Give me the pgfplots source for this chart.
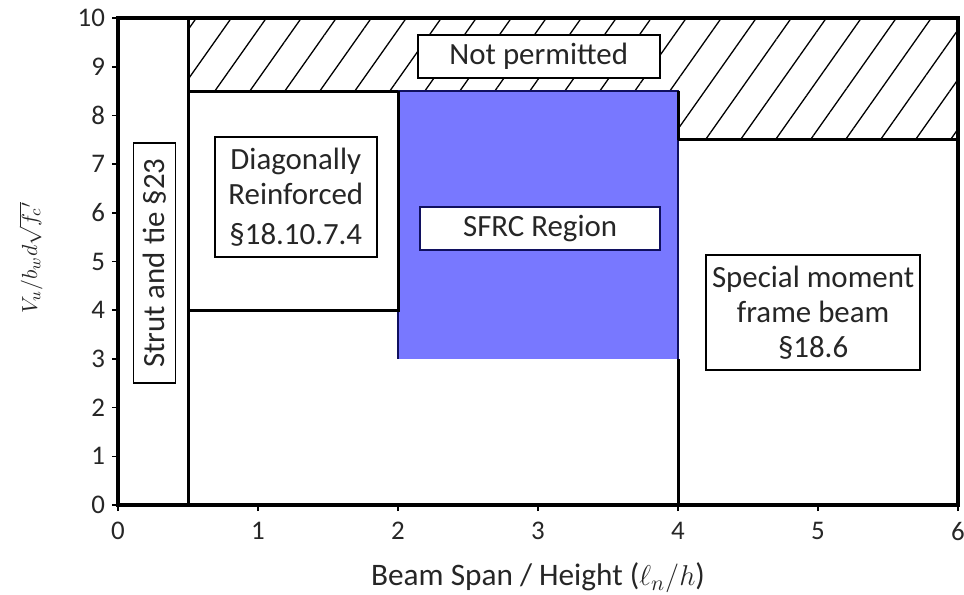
\documentclass[border=0pt]{standalone}
\usepackage{pgfplots}
\pgfplotsset{compat=1.18}
\usepackage{fontspec}
\setmainfont{Carlito}
\usetikzlibrary{patterns.meta}
\definecolor{sfrc}{HTML}{7878FF}
\definecolor{navy}{HTML}{101060}
\begin{document}
\begin{tikzpicture}
\begin{axis}[
  scale only axis,
  width=420bp, height=243.5bp,
  xmin=0, xmax=6, ymin=0, ymax=10,
  xtick={0,1,...,6}, ytick={0,1,...,10},
  tick pos=left, tick align=outside,
  major tick length=3bp,
  axis line style={line width=1.6bp},
  every tick/.style={black, line width=0.8bp},
  /pgf/number format/assume math mode=true,
  tick label style={font=\fontsize{13.5}{16}\selectfont, text=black!85},
  xticklabel style={yshift=-2bp},
  xlabel={Beam Span / Height ($\ell_n/h$)},
  xlabel style={font=\fontsize{15.7}{18}\selectfont, at={(rel axis cs:0.5,-0.15)}, anchor=center, text=black!85, inner sep=0pt},
  ylabel={$V_u/b_w d\sqrt{f_c{}'}$},
  ylabel style={font=\fontsize{11}{12}\selectfont, at={(rel axis cs:-0.104,0.507)}, anchor=center, text=black!85, inner sep=0pt},
  clip=false,
]
% hatched "not permitted" region
\addplot[draw=black, line width=1.3bp, pattern={Lines[angle=54.8, distance=14.3bp, line width=0.65bp]}]
  coordinates {(0.5,8.5) (4,8.5) (4,7.5) (6,7.5) (6,10) (0.5,10)} -- cycle;
% SFRC region
\addplot[draw=none, fill=sfrc] coordinates {(2,3) (4,3) (4,8.5) (2,8.5)} -- cycle;
\addplot[navy, line width=1bp] coordinates {(2,3) (2,8.5) (4,8.5) (4,3)};
% boundary lines
\addplot[black, line width=1.5bp] coordinates {(0.5,0) (0.5,10)};
\addplot[black, line width=1.5bp] coordinates {(0.5,4) (2,4) (2,8.5)};
\addplot[black, line width=1.5bp] coordinates {(0.5,8.5) (2,8.5)};
\addplot[black, line width=1.5bp] coordinates {(4,0) (4,3)};
\addplot[black, line width=1.5bp] coordinates {(4,7.5) (4,8.5)};
\addplot[black, line width=1.5bp] coordinates {(4,7.5) (6,7.5)};
% labels
\tikzset{lbl/.style={draw=black, line width=0.9bp, fill=white, inner sep=0pt,
  font=\fontsize{15.5}{17.5}\selectfont, text=black!85, align=center}}
\node[lbl, minimum width=121bp, minimum height=21.4bp] at (axis cs:3.005,9.21) {Not permitted};
\node[lbl, minimum width=120bp, minimum height=21bp, rotate=90] at (axis cs:0.26,4.965) {Strut and tie §23};
\node[lbl, minimum width=81bp, minimum height=60bp] at (axis cs:1.27,6.32) {Diagonally\\Reinforced\\[3bp]§18.10.7.4};
\node[lbl, minimum width=120bp, minimum height=21.4bp, draw=navy] at (axis cs:3.015,5.68) {SFRC Region};
\node[lbl, minimum width=107bp, minimum height=57.5bp] at (axis cs:4.965,3.95) {Special moment\\frame beam\\§18.6};
% bounding box matching reference
\path (rel axis cs:-0.1405,-0.1828) coordinate (bbl) (rel axis cs:1.00714,1.037) coordinate (btr);
\end{axis}
\pgfresetboundingbox
\useasboundingbox (bbl) rectangle (btr);
\end{tikzpicture}
\end{document}
